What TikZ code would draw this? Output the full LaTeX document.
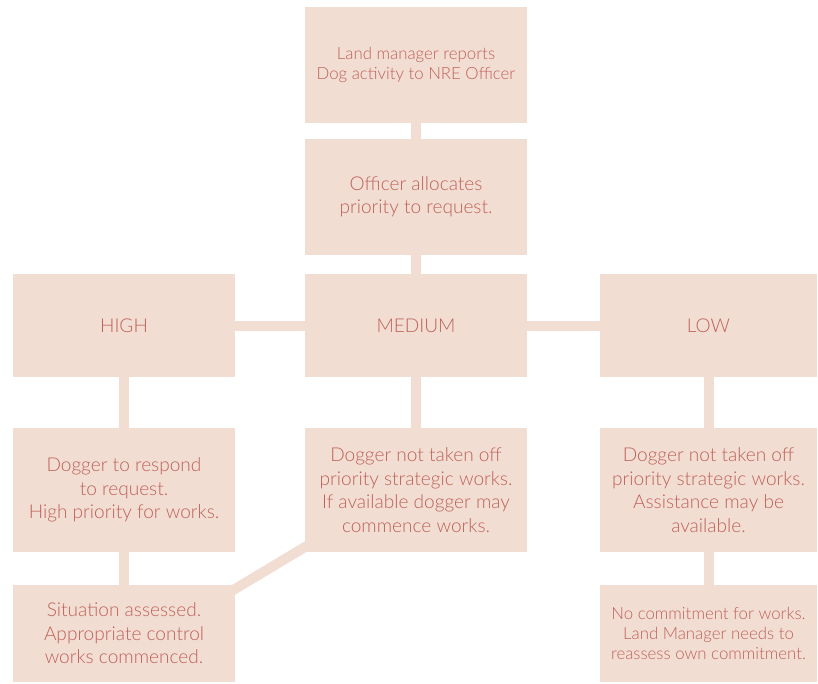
\documentclass[tikz,border=0pt]{standalone}
\usepackage{fontspec}
\setmainfont{Lato Light}
\begin{document}
\begin{tikzpicture}[x=0.75pt,y=-0.75pt]

\definecolor{boxfill}{RGB}{242,221,211}
\definecolor{boxtext}{RGB}{190,98,88}

\tikzset{
  stage/.style={fill=boxfill,text=boxtext,align=center,inner sep=0pt,outer sep=0pt,
    minimum width=166.5pt,font=\fontsize{14.3}{17.6}\selectfont},
  small/.style={font=\fontsize{12.6}{15}\selectfont},
  link/.style={draw=boxfill,line width=7.5pt}
}

\useasboundingbox (0,0) rectangle (818,683);

% top of the chart
\node[stage,small,minimum height=87pt] (report) at (416,65) {Land manager reports\\Dog activity to NRE Officer};
\node[stage,minimum height=87pt] (officer) at (416,197) {Officer allocates\\priority to request.};

% priority levels
\node[stage,minimum height=77.25pt] (high) at (124,325.5) {HIGH};
\node[stage,minimum height=77.25pt] (medium) at (416,325.5) {MEDIUM};
\node[stage,minimum height=77.25pt,minimum width=162.75pt] (low) at (708.5,325.5) {LOW};

% responses
\node[stage,minimum height=93pt] (respond) at (124,490) {Dogger to respond\\to request.\\High priority for works.};
\node[stage,minimum height=93pt] (offwork) at (416,490) {Dogger not taken off\\priority strategic works.\\If available dogger may\\commence works.};
\node[stage,minimum height=93pt,minimum width=162.75pt] (assist) at (708.5,490) {Dogger not taken off\\priority strategic works.\\Assistance may be\\available.};

% outcomes
\node[stage,minimum height=72.75pt] (assess) at (124,633.5) {Situation assessed.\\Appropriate control\\works commenced.};
\node[stage,small,minimum height=72.75pt,minimum width=162.75pt] (commit) at (708.5,633.5) {No commitment for works.\\Land Manager needs to\\reassess own commitment.};

\draw[link](report)--(officer);
\draw[link](officer)--(medium);
\draw[link](high)--(medium);
\draw[link](medium)--(low);
\draw[link](high)--(respond);
\draw[link](medium)--(offwork);
\draw[link](low)--(assist);
\draw[link](respond)--(assess);
\draw[link](assist)--(commit);
\draw[link,shorten <=-4pt,shorten >=-4pt]([yshift=-3pt]assess.north east)--([yshift=3.75pt]offwork.south west);

\end{tikzpicture}
\end{document}
